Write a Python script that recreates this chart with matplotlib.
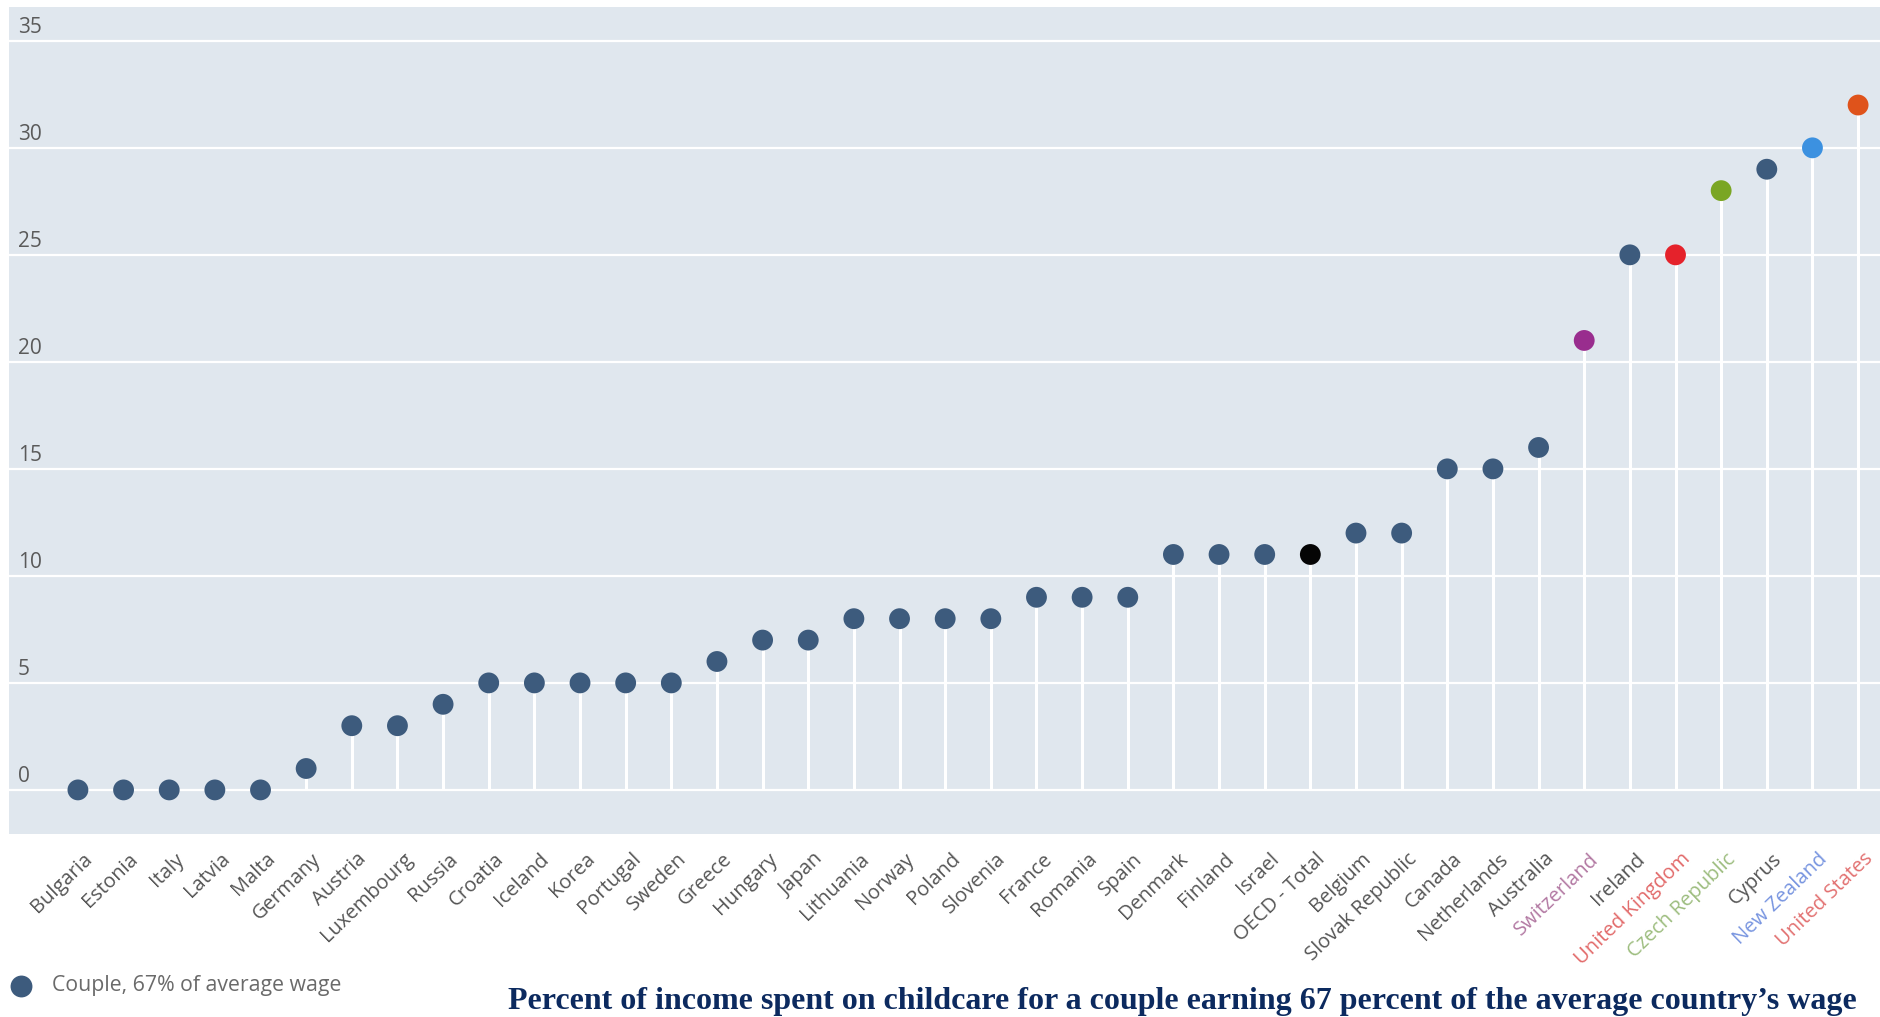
import matplotlib
matplotlib.use("Agg")
import matplotlib.pyplot as plt
from matplotlib.transforms import ScaledTranslation
import numpy as np

countries = ["Bulgaria", "Estonia", "Italy", "Latvia", "Malta", "Germany", "Austria",
             "Luxembourg", "Russia", "Croatia", "Iceland", "Korea", "Portugal", "Sweden",
             "Greece", "Hungary", "Japan", "Lithuania", "Norway", "Poland", "Slovenia",
             "France", "Romania", "Spain", "Denmark", "Finland", "Israel", "OECD - Total",
             "Belgium", "Slovak Republic", "Canada", "Netherlands", "Australia",
             "Switzerland", "Ireland", "United Kingdom", "Czech Republic", "Cyprus",
             "New Zealand", "United States"]
values = [0, 0, 0, 0, 0, 1, 3, 3, 4, 5, 5, 5, 5, 5, 6, 7, 7, 8, 8, 8, 8, 9, 9, 9,
          11, 11, 11, 11, 12, 12, 15, 15, 16, 21, 25, 25, 28, 29, 30, 32]
y_ticks = [0, 5, 10, 15, 20, 25, 30, 35]
legend_label = "Couple, 67% of average wage"
title = "Percent of income spent on childcare for a couple earning 67 percent of the average country\u2019s wage"

# styles
base_dot = "#3d5b7d"
dot_highlight = {"OECD - Total": "#050505", "Switzerland": "#992d8e",
                 "United Kingdom": "#e5222b", "Czech Republic": "#7aa623",
                 "New Zealand": "#3c91e0", "United States": "#df531b"}
label_base = "#555555"
label_highlight = {"Switzerland": "#b278a2", "United Kingdom": "#e26a6a",
                   "Czech Republic": "#9dbd7f", "New Zealand": "#7895e0",
                   "United States": "#e27070"}

W, H = 1880, 1017
fig = plt.figure(figsize=(W / 100, H / 100), dpi=100)
fig.patch.set_facecolor("white")
ax = fig.add_axes([9 / W, 1 - 834 / H, (W - 9) / W, (834 - 7) / H])
ax.set_facecolor("#e0e7ee")
for s in ax.spines.values():
    s.set_visible(False)

x = np.arange(len(countries))
ax.set_xlim(-1.51, len(countries) - 1 + 0.48)
ax.set_ylim(-2.06, 36.58)

# gridlines and y labels
ylab_trans = ax.get_yaxis_transform() + ScaledTranslation(0, 3 / 100, fig.dpi_scale_trans)
for t in y_ticks:
    ax.axhline(t, color="white", lw=1.6, zorder=1)
    ax.text((18 - 9) / (W - 9), t, str(t), transform=ylab_trans, fontsize=15,
            family="Open Sans", color="#5a5a5a", ha="left", va="bottom", zorder=2)

# stems
ax.vlines(x, 0, values, color="white", lw=2.2, zorder=2)
cols = [dot_highlight.get(c, base_dot) for c in countries]
sc = ax.scatter(x, values, s=15 ** 2, c=cols, zorder=3, linewidths=0,
                label=legend_label)

ax.set_yticks([])
ax.set_xticks(x)
ax.set_xticklabels(countries, rotation=44, ha="right", rotation_mode="anchor",
                   fontsize=14.5, family="Open Sans")
ax.tick_params(axis="x", length=0, pad=16)
off = ScaledTranslation(12 / 100, 0, fig.dpi_scale_trans)
for lab, c in zip(ax.get_xticklabels(), countries):
    lab.set_color(label_highlight.get(c, label_base))
    lab.set_va("center")
    lab.set_transform(lab.get_transform() + off)

leg = ax.legend(handles=[sc], loc="center left", bbox_to_anchor=(10 / W, 1 - 986 / H),
                bbox_transform=fig.transFigure, frameon=False,
                prop={"family": "Open Sans", "size": 15.3}, handletextpad=1.0,
                handlelength=1.0, borderaxespad=0, borderpad=0, markerscale=1.05)
for t in leg.get_texts():
    t.set_color("#6a6a6a")
leg.legend_handles[0].set_color(base_dot)

fig.text(1857 / W, 1 - 1001 / H, title, ha="right", va="center",
         family="Liberation Serif", fontweight="bold", fontsize=23, color="#0c2a5f")

fig.savefig("out.png", dpi=100)
